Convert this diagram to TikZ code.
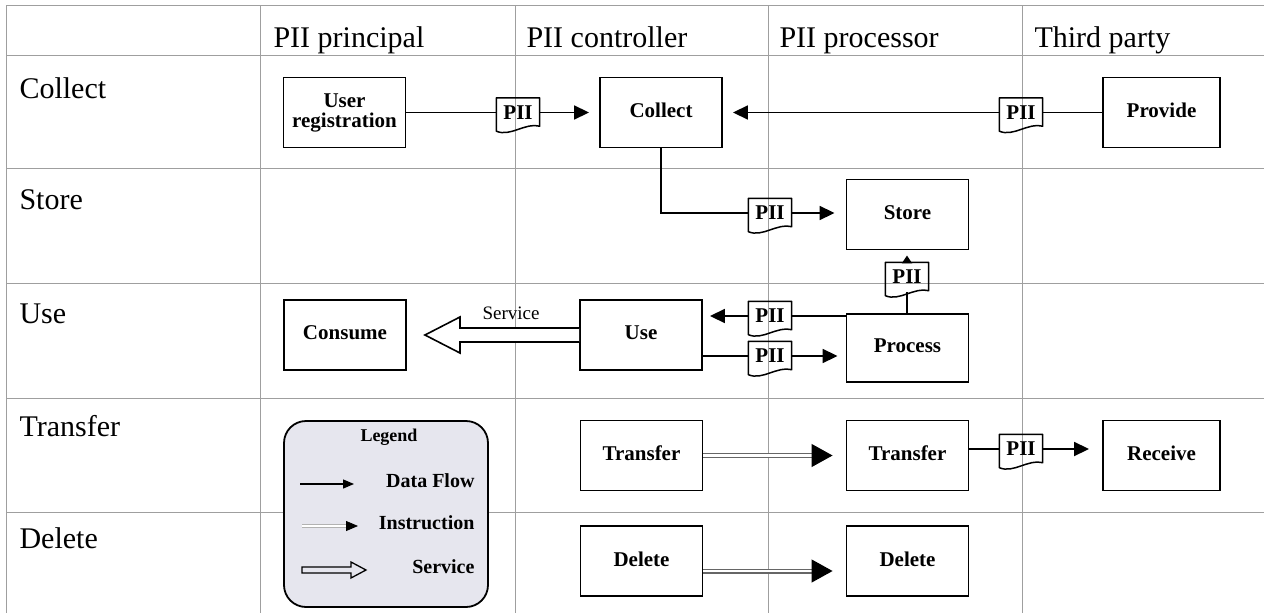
\documentclass[tikz,border=0pt]{standalone}
\usepackage{fontspec}
\setmainfont{Liberation Serif}
\usetikzlibrary{arrows.meta,calc}

\definecolor{legendfill}{RGB}{230,230,238}

\tikzset{
  grid/.style={gray!75, line width=0.8pt},
  lane/.style={anchor=base west, font=\fontsize{30}{32}\selectfont},
  box/.style={draw, line width=1.9pt, minimum width=122pt, minimum height=70pt,
    text depth=4pt, align=center, font=\fontsize{21}{20}\selectfont\bfseries},
  pii/.style={minimum width=43pt, minimum height=29pt, inner sep=0pt,
    font=\fontsize{21}{21}\selectfont\bfseries},
  piidoc/.style={line width=1.5pt, line join=round},
  wire/.style={line width=1.8pt},
  flow/.style={wire, -{Triangle[length=15pt,width=14pt]}, shorten >=10pt},
  instr/.style={draw=gray!80!black, line width=1.1pt, double=white, double distance=2.8pt,
    -{Triangle[length=21pt,width=23pt,color=black]}},
  service/.style={line width=1.6pt, fill=white, line join=miter},
  leglabel/.style={anchor=east, font=\fontsize{20}{20}\selectfont\bfseries},
}

% outline of a PII document tag around a node
\newcommand{\piidoc}[1]{%
  \draw[piidoc] (#1.north west) -- (#1.north east) -- ([yshift=1pt]#1.south east)
    .. controls +(-14pt,4pt) and +(14pt,-6pt) .. ([yshift=-4pt]#1.south west) -- cycle;}

\begin{document}
\begin{tikzpicture}[x=1pt, y=-1pt]
  \useasboundingbox (0,0) rectangle (1264,613);

  %%% table %%%
  \draw[grid] (6,5) -- (1264,5);
  \foreach \y in {55,168,283,398,512}
    \draw[grid] (6,\y) -- (1264,\y);
  \foreach \x in {6,260,515,768,1022}
    \draw[grid] (\x,5) -- (\x,613);

  \node[lane] (hprin) at (270,47) {PII principal};
  \node[lane] (hctrl) at (523,47) {PII controller};
  \node[lane] (hproc) at (776,47) {PII processor};
  \node[lane] (hthird) at (1031,47) {Third party};

  \node[lane] (lcollect) at (16,98) {Collect};
  \node[lane] (lstore) at (16,209) {Store};
  \node[lane] (luse) at (16,323) {Use};
  \node[lane] (ltransfer) at (16,436) {Transfer};
  \node[lane] (ldelete) at (16,548) {Delete};

  %%% activities %%%
  \node[box] (reg) at (344.5,112.5) {User\\registration};
  \node[box] (collect) at (661,112.5) {Collect};
  \node[box, minimum width=117pt] (provide) at (1161.5,112.5) {Provide};
  \node[box] (store) at (907.5,214.5) {Store};
  \node[box] (consume) at (345,335) {Consume};
  \node[box] (use) at (641,335) {Use};
  \node[box, minimum height=68pt] (process) at (907.5,348) {Process};
  \node[box] (transfer) at (641.5,455.5) {Transfer};
  \node[box] (ptransfer) at (907.5,455.5) {Transfer};
  \node[box, minimum width=117pt] (receive) at (1161.5,455.5) {Receive};
  \node[box] (delete) at (641.5,561) {Delete};
  \node[box] (pdelete) at (907.5,561) {Delete};

  % PII tags
  \node[pii] (t1) at (518,112.5) {PII};
  \node[pii] (t2) at (1021,112.5) {PII};
  \node[pii] (t3) at (770,213) {PII};
  \node[pii] (t4) at (907,277) {PII};
  \node[pii] (t5) at (770,316) {PII};
  \node[pii] (t6) at (770,356) {PII};
  \node[pii] (t7) at (1021,449) {PII};
  \foreach \t in {t1,t2,t3,t4,t5,t6,t7}
    \piidoc{\t};

  %%% data flows %%%
  \draw[wire] (reg.east) -- (t1.west);
  \draw[flow] (t1.east) -- (collect.west);
  \draw[wire] (provide.west) -- (t2.east);
  \draw[flow] (t2.west) -- (collect.east);

  \draw[wire] (collect.south) |- (t3.west);
  \draw[flow, shorten >=11pt] (t3.east) -- (t3 -| store.west);

  \draw[wire] (process.north -| t4) -- (t4.south);
  \draw[wire, -{Triangle[length=8pt,width=10pt]}, shorten >=5pt] (t4.north) -- (t4 |- store.south);

  \draw[wire] (process.west |- t5) -- (t5.east);
  \draw[flow, shorten >=7pt] (t5.west) -- (t5 -| use.east);
  \draw[wire] (use.east |- t6) -- (t6.west);
  \draw[flow, shorten >=8pt] (t6.east) -- (t6 -| process.west);

  \draw[wire] (ptransfer.east |- t7) -- (t7.west);
  \draw[flow, shorten >=13pt] (t7.east) -- (t7 -| receive.west);

  %%% instructions %%%
  \draw[instr, shorten >=13pt] (transfer.east) -- (ptransfer.west);
  \draw[instr, shorten >=13pt] ([yshift=-10pt]delete.east) -- ([yshift=-10pt]pdelete.west);

  %%% service %%%
  \coordinate (stip) at ([xshift=18pt]consume.east);
  \draw[service] ($(use.west)+(0pt,7pt)$) -- ($(stip)+(35pt,7pt)$) -- ($(stip)+(35pt,18pt)$)
    -- (stip) -- ($(stip)+(35pt,-18pt)$) -- ($(stip)+(35pt,-7pt)$) -- ($(use.west)+(0pt,-7pt)$);
  \node[font=\fontsize{19}{19}\selectfont] (servlbl) at (511,313) {Service};

  %%% legend %%%
  \node[draw, line width=1.8pt, fill=legendfill, rounded corners=22pt,
    minimum width=204pt, minimum height=186pt] (legend) at (386,514) {};
  \node[font=\fontsize{18}{18}\selectfont\bfseries] (legtitle) at (389,437) {Legend};
  \node[leglabel] (lflow) at (478,481) {Data Flow};
  \node[leglabel] (linstr) at (478,523) {Instruction};
  \node[leglabel] (lserv) at (478,567) {Service};

  \coordinate (fa) at (300,484);
  \coordinate (fb) at (354,484);
  \draw[wire, line width=1.3pt, -{Triangle[length=11pt,width=9pt]}] (fa) -- (fb);
  \coordinate (ia) at (302,526);
  \coordinate (ib) at (358,526);
  \draw[instr, draw=gray!60, line width=0.8pt, double distance=2pt,
    -{Triangle[length=12pt,width=10pt,color=black]}] (ia) -- (ib);
  \coordinate (sa) at (302,570);
  \coordinate (sb) at (366,570);
  \draw[service, fill=legendfill, line width=1.3pt] ($(sa)+(0pt,3pt)$) -- ($(sb)+(-15pt,3pt)$)
    -- ($(sb)+(-15pt,8pt)$) -- (sb) -- ($(sb)+(-15pt,-8pt)$) -- ($(sb)+(-15pt,-3pt)$)
    -- ($(sa)+(0pt,-3pt)$) -- cycle;

\end{tikzpicture}
\end{document}
